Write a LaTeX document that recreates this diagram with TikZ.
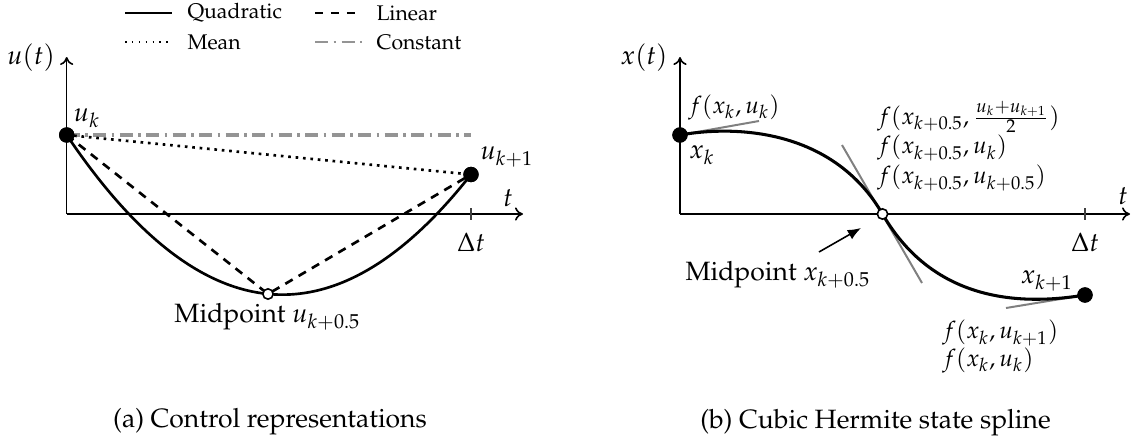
\documentclass[tikz,border=0pt]{standalone}
\usepackage[T1]{fontenc}
\usepackage{mathpazo}
\usetikzlibrary{arrows.meta}
\begin{document}
\begin{tikzpicture}[x=0.3774pt,y=-0.3774pt,
  axisline/.style={semithick,-{To[length=3pt,width=5pt]}},
  tickline/.style={thin,black!75},
  dot/.style={circle,fill=black,inner sep=0pt,minimum size=5.8pt},
  odot/.style={circle,draw=black,fill=white,semithick,inner sep=0pt,minimum size=3.9pt},
  quadline/.style={line width=1pt},
  linline/.style={line width=1pt,dash pattern=on 3.2pt off 2.6pt},
  meanline/.style={line width=1pt,dash pattern=on 1pt off 1.8pt},
  constline/.style={line width=1.3pt,black!42,dash pattern=on 5pt off 2pt on 1pt off 2pt},
  tangline/.style={black!50,line width=0.75pt},
  splineline/.style={line width=1.15pt},
  lab/.style={inner sep=1pt},
  leg/.style={font=\footnotesize,anchor=west,inner sep=0pt},
  flab/.style={font=\small,inner sep=0pt},
]
\useasboundingbox (0,0) rectangle (1131,441);

% ---------------- panel (a) ----------------
\coordinate (aO) at (66.7,214);
\coordinate (aY) at (66.7,57);
\coordinate (aX) at (523,214);
\coordinate (aT1) at (471,208);
\coordinate (aT2) at (471,220);
\draw[axisline] (aO) -- (aY);
\draw[axisline] (aO) -- (aX);
\draw[tickline] (aT1) -- (aT2);

\node[lab] (aut) at (31,58) {$u(t)$};
\node[lab] (at) at (508,198) {$t$};
\node[lab] (adt) at (471,242) {$\Delta t$};

\coordinate (cA1) at (200.4,333.7);
\coordinate (cA2) at (335.1,347);
\node[dot] (uk) at (66.7,135) {};
\node[dot] (uk1) at (471,174.5) {};
\coordinate (cend) at (471,135);
\coordinate (umid) at (268,294);

\draw[constline] (uk.center) -- (cend);
\draw[meanline] (uk.center) -- (uk1.center);
\draw[linline] (uk.center) -- (umid) -- (uk1.center);
\draw[quadline] (uk.center) .. controls (cA1) and (cA2) .. (uk1.center);
\node[dot] at (uk) {};
\node[dot] at (uk1) {};
\node[odot] (um) at (umid) {};

\node[lab] (ukl) at (87,118) {$u_k$};
\node[lab] (uk1l) at (507,157) {$u_{k+1}$};
\node[lab] (uml) at (267.5,317) {Midpoint $u_{k+0.5}$};

% legend
\coordinate (l1a) at (125,13); \coordinate (l1b) at (172,13);
\coordinate (l2a) at (315,13); \coordinate (l2b) at (362,13);
\coordinate (l3a) at (125,42); \coordinate (l3b) at (170,42);
\coordinate (l4a) at (315,42); \coordinate (l4b) at (362,42);
\draw[semithick] (l1a) -- (l1b);
\draw[semithick,dashed] (l2a) -- (l2b);
\draw[semithick,dotted] (l3a) -- (l3b);
\draw[constline,line width=0.9pt] (l4a) -- (l4b);
\node[leg] (lq) at (187,13) {Quadratic};
\node[leg] (ll) at (376,13) {Linear};
\node[leg] (lm) at (187,42) {Mean};
\node[leg] (lc) at (376,42) {Constant};

\node[anchor=base] (capa) at (270,427) {(a) Control representations};

% ---------------- panel (b) ----------------
\coordinate (bO) at (680,214);
\coordinate (bY) at (680,57);
\coordinate (bX) at (1130,214);
\coordinate (bT1) at (1085,208);
\coordinate (bT2) at (1085,220);
\draw[axisline] (bO) -- (bY);
\draw[axisline] (bO) -- (bX);
\draw[tickline] (bT1) -- (bT2);

\node[lab] (bxt) at (644,58) {$x(t)$};
\node[lab] (bt) at (1123,196) {$t$};
\node[lab] (bdt) at (1085,242) {$\Delta t$};

\node[dot] (xk) at (680,135) {};
\node[dot] (xk1) at (1085,295) {};
\coordinate (xmid) at (882.5,214);

% tangents
\coordinate (tk) at (759,121);
\coordinate (tm1) at (842,145);
\coordinate (tm2) at (922,283);
\coordinate (tk1) at (1006,308);
\draw[tangline] (xk.center) -- (tk);
\draw[tangline] (tm1) -- (tm2);
\draw[tangline] (tk1) -- (xk1.center);

% spline
\coordinate (cB1) at (740,124.4);
\coordinate (cB2) at (834.5,131.2);
\coordinate (cB3) at (935,304.6);
\coordinate (cB4) at (1025,304.9);
\draw[splineline] (xk.center) .. controls (cB1) and (cB2) .. (xmid)
                  .. controls (cB3) and (cB4) .. (xk1.center);
\node[dot] at (xk) {};
\node[dot] at (xk1) {};
\node[odot] (xm) at (xmid) {};

\node[lab] (xkl) at (702,155) {$x_k$};
\node[lab] (xk1l) at (1047,281) {$x_{k+1}$};
\node[flab] (fk) at (734,107) {$f(x_k, u_k)$};
\node[flab,anchor=west] (fm1) at (877,117) {$f(x_{k+0.5}, \frac{u_k+u_{k+1}}{2})$};
\node[flab,anchor=west] (fm2) at (877,148) {$f(x_{k+0.5}, u_k)$};
\node[flab,anchor=west] (fm3) at (877,178) {$f(x_{k+0.5}, u_{k+0.5})$};
\node[flab,anchor=west] (fe1) at (942,333) {$f(x_k, u_{k+1})$};
\node[flab,anchor=west] (fe2) at (942,360) {$f(x_k, u_k)$};

\node[lab] (xml) at (778,275) {Midpoint $x_{k+0.5}$};
\coordinate (arA) at (819,252);
\coordinate (arB) at (861,228);
\draw[semithick,-{Latex[length=5pt,width=4pt]}] (arA) -- (arB);

\node[anchor=base] (capb) at (875.5,428) {(b) Cubic Hermite state spline};
\end{tikzpicture}
\end{document}
